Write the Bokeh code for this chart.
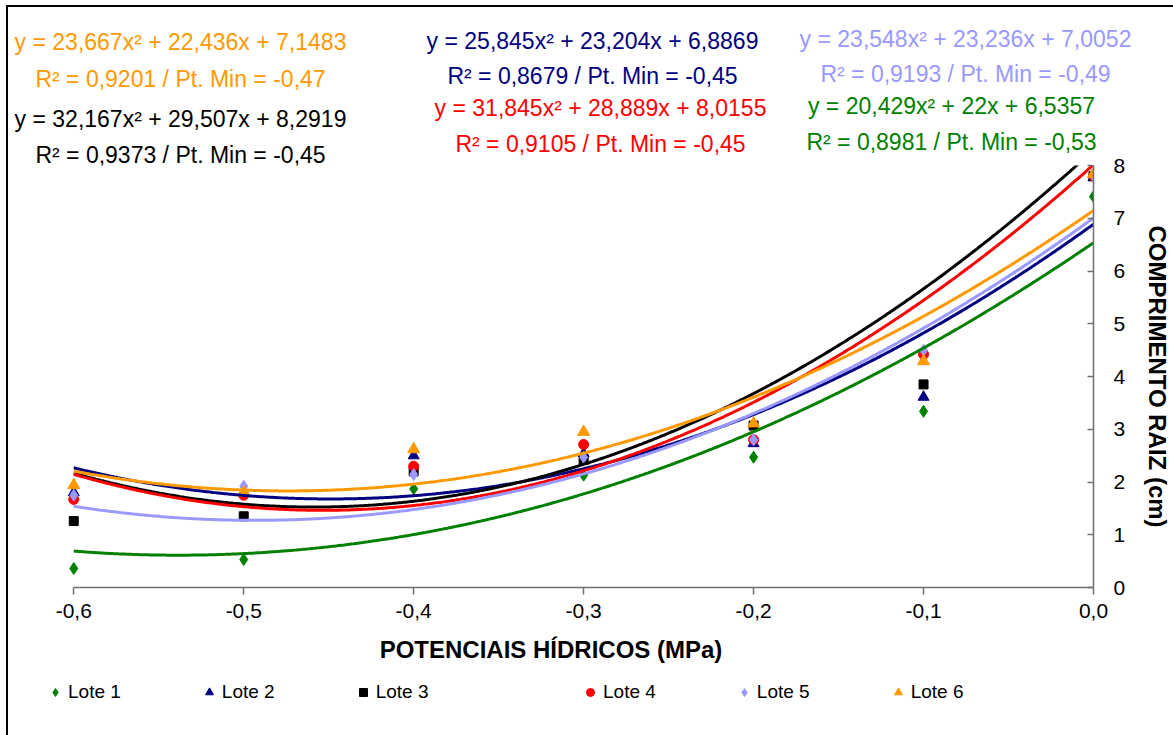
import numpy as np
from bokeh.plotting import figure
from bokeh.layouts import column
from bokeh.models import Label, Legend, LegendItem, FixedTicker, CustomJSTickFormatter, Range1d
from bokeh.embed import file_html
from bokeh.resources import INLINE

# ---------------- data ----------------
potenciais = [-0.6, -0.5, -0.4, -0.3, -0.2, -0.1, 0.0]
series_names = ["Lote 1", "Lote 2", "Lote 3", "Lote 4", "Lote 5", "Lote 6"]
lote1 = [0.36, 0.53, 1.87, 2.13, 2.47, 3.34, 7.41]
lote2 = [1.80, 1.80, 2.50, 2.54, 2.73, 3.61, 7.77]
lote3 = [1.26, 1.35, 2.20, 2.42, 3.07, 3.85, 7.80]
lote4 = [1.67, 1.75, 2.30, 2.71, 2.80, 4.42, 7.80]
lote5 = [1.75, 1.92, 2.14, 2.47, 2.80, 4.50, 7.80]
lote6 = [1.94, 1.80, 2.62, 2.95, 3.11, 4.29, 7.84]
series_values = [lote1, lote2, lote3, lote4, lote5, lote6]

# quadratic trendline coefficients (y = a x^2 + b x + c) as printed on chart
coef_a = [20.429, 25.845, 32.167, 31.845, 23.548, 23.667]
coef_b = [22.0, 23.204, 29.507, 28.889, 23.236, 22.436]
coef_c = [6.5357, 6.8869, 8.2919, 8.0155, 7.0052, 7.1483]
eq_texts = ["y = 20,429x² + 22x + 6,5357",
            "y = 25,845x² + 23,204x + 6,8869",
            "y = 32,167x² + 29,507x + 8,2919",
            "y = 31,845x² + 28,889x + 8,0155",
            "y = 23,548x² + 23,236x + 7,0052",
            "y = 23,667x² + 22,436x + 7,1483"]
r2_texts = ["R² = 0,8981 / Pt. Min = -0,53",
            "R² = 0,8679 / Pt. Min = -0,45",
            "R² = 0,9373 / Pt. Min = -0,45",
            "R² = 0,9105 / Pt. Min = -0,45",
            "R² = 0,9193 / Pt. Min = -0,49",
            "R² = 0,9201 / Pt. Min = -0,47"]
x_ticks = [-0.6, -0.5, -0.4, -0.3, -0.2, -0.1, 0.0]
y_ticks = [0, 1, 2, 3, 4, 5, 6, 7, 8]

# ---------------- styles ----------------
colors = ["#008000", "#000080", "#000000", "#FF0000", "#9999FF", "#FF9900"]
markers = ["diamond", "triangle", "square", "circle", "diamond", "triangle"]
msizes = [12, 11, 9, 10, 12, 12]
FONT = "Liberation Sans"


def blank(fig):
    fig.outline_line_color = None
    fig.xgrid.grid_line_color = None
    fig.ygrid.grid_line_color = None
    fig.background_fill_alpha = 0
    fig.border_fill_alpha = 0


# ---------- header with the trendline equations (pixel coordinates) ----------
head = figure(frame_width=1165, frame_height=170,
              x_range=Range1d(8, 1173), y_range=Range1d(177, 7),
              x_axis_location=None, y_axis_location=None,
              min_border=0, output_backend="svg", toolbar_location=None)
blank(head)

# (series index, x centre, y of equation, y of R² line) in screen pixels
label_pos = [(5, 180, 41, 78),
             (2, 180, 118, 154),
             (1, 592, 40, 75),
             (3, 600, 107, 143),
             (4, 965, 38, 73),
             (0, 951, 105, 141)]
for idx, lx, ly1, ly2 in label_pos:
    for txt, ly in ((eq_texts[idx], ly1), (r2_texts[idx], ly2)):
        head.add_layout(Label(x=lx, y=ly, text=txt, text_align="center", text_baseline="middle",
                              text_font=FONT, text_font_size="23px", text_color=colors[idx]))

# ---------- main chart ----------
p = figure(frame_width=1085, frame_height=422,
           x_range=Range1d(-0.6384, 0.0), y_range=Range1d(0, 8),
           y_axis_location="right",
           min_border_left=0, min_border_top=12, min_border_bottom=90, min_border_right=70,
           output_backend="svg", toolbar_location=None)
p.styles = {"margin-top": "-24px"}
blank(p)
p.background_fill_color = "white"
p.background_fill_alpha = 1

for vals, col, mk, ms in zip(series_values, colors, markers, msizes):
    p.scatter(potenciais, vals, marker=mk, size=ms, fill_color=col, line_color=col)

xs = np.linspace(-0.6, 0.0, 601)
for a, b, c, col in zip(coef_a, coef_b, coef_c, colors):
    p.line(xs, a * xs ** 2 + b * xs + c, line_color=col, line_width=3)

xa = p.xaxis[0]
xa.ticker = FixedTicker(ticks=x_ticks)
xa.bounds = (-0.6, 0.0)
xa.formatter = CustomJSTickFormatter(code="return tick.toFixed(1).replace('.', ',');")
xa.axis_label = "POTENCIAIS HÍDRICOS (MPa)"
xa.axis_label_text_font = FONT
xa.axis_label_text_font_style = "bold"
xa.axis_label_text_font_size = "24px"
xa.axis_label_text_color = "black"
xa.axis_label_standoff = 15
xa.major_label_text_font = FONT
xa.major_label_text_font_size = "21px"
xa.major_label_text_color = "black"
xa.major_label_standoff = 9
xa.major_tick_out = 7
xa.major_tick_in = 0
xa.minor_tick_line_color = None
xa.axis_line_color = "#707070"
xa.major_tick_line_color = "#707070"
xa.axis_line_width = 1.5
xa.major_tick_line_width = 1.5

ya = p.yaxis[0]
ya.ticker = FixedTicker(ticks=y_ticks)
ya.formatter = CustomJSTickFormatter(code="return tick.toFixed(0);")
ya.axis_label = "COMPRIMENTO RAIZ (cm)"
ya.axis_label_text_font = FONT
ya.axis_label_text_font_style = "bold"
ya.axis_label_text_font_size = "24px"
ya.axis_label_text_color = "black"
ya.axis_label_standoff = 16
ya.major_label_text_font = FONT
ya.major_label_text_font_size = "21px"
ya.major_label_text_color = "black"
ya.major_label_standoff = 20
ya.major_tick_out = 0
ya.major_tick_in = 6
ya.minor_tick_line_color = None
ya.axis_line_color = "#707070"
ya.major_tick_line_color = "#707070"
ya.axis_line_width = 1.5
ya.major_tick_line_width = 1.5

# ---------- legend strip (pixel coordinates; series points fall outside its view) ----------
foot = figure(frame_width=1165, frame_height=58,
              x_range=Range1d(8, 1173), y_range=Range1d(735, 677),
              x_axis_location=None, y_axis_location=None,
              min_border=0, output_backend="svg", toolbar_location=None)
blank(foot)
key_r = []
for vals, col, mk, ms in zip(series_values, colors, markers, msizes):
    key_r.append(foot.scatter(potenciais, vals, marker=mk, size=ms, fill_color=col, line_color=col))

legend_kw = dict(orientation="horizontal", glyph_width=20, glyph_height=20,
                 label_standoff=3, spacing=78, padding=0, margin=0,
                 border_line_color=None, background_fill_alpha=0,
                 label_text_font=FONT, label_text_font_size="19px", label_text_color="black")
legend_a = Legend(items=[LegendItem(label=n, renderers=[r])
                         for n, r in zip(series_names[:3], key_r[:3])],
                  location=(37, 32), **legend_kw)
legend_b = Legend(items=[LegendItem(label=n, renderers=[r])
                         for n, r in zip(series_names[3:], key_r[3:])],
                  location=(572, 32), **legend_kw)
foot.add_layout(legend_a)
foot.add_layout(legend_b)

layout = column(head, p, foot, spacing=0,
                styles={"margin-left": "6px", "margin-top": "5px",
                        "border-left": "2px solid black", "border-top": "2px solid black"})

open("out.html", "w").write(file_html(layout, INLINE))
